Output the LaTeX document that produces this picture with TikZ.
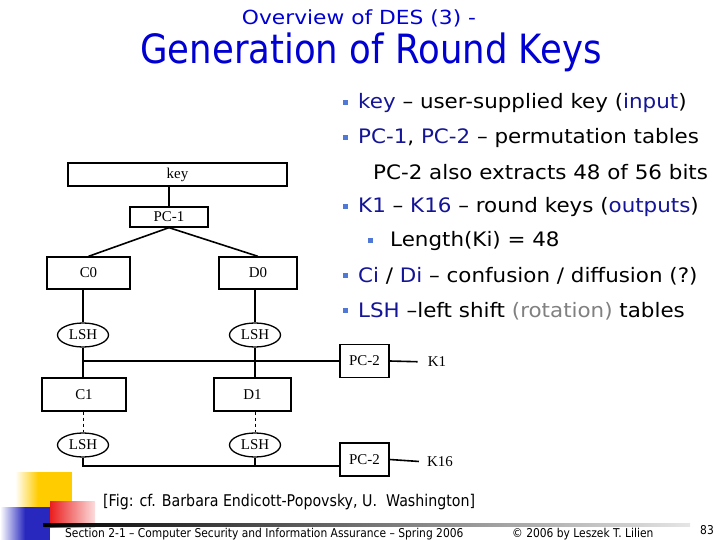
\documentclass[tikz,border=0pt]{standalone}
\usepackage{fontspec}
\setmainfont{Liberation Serif}
\newfontfamily\slidefont[FakeStretch=1.12]{DejaVu Sans}
\newfontfamily\itemfont[FakeStretch=1.075]{DejaVu Sans}
\newfontfamily\titlefont[FakeStretch=0.88]{DejaVu Sans}
\usetikzlibrary{shapes.geometric}

\definecolor{titleblue}{RGB}{0,0,210}
\definecolor{termblue}{RGB}{20,20,150}
\definecolor{bulletblue}{RGB}{80,120,215}
\definecolor{notegray}{RGB}{128,128,128}
\definecolor{deckyellow}{RGB}{255,204,0}
\definecolor{deckblue}{RGB}{40,40,190}
\definecolor{deckred}{RGB}{235,30,30}

\tikzset{
  keybox/.style={draw, line width=1.3bp, inner sep=0pt, font=\fontsize{15}{15}\selectfont},
  lshbox/.style={draw, ellipse, line width=1.3bp, minimum width=51bp, minimum height=24bp,
    inner sep=0pt, font=\fontsize{15}{15}\selectfont},
  wire/.style={line width=1.6bp},
  sqbullet/.style={fill=bulletblue, minimum size=5bp, inner sep=0pt},
  itemtext/.style={anchor=west, inner sep=0pt, font=\itemfont\fontsize{20}{20}\selectfont}
}

\begin{document}
\begin{tikzpicture}[x=1bp,y=-1bp]
  \useasboundingbox (0,0) rectangle (720,540);

  % slide decoration
  \shade[left color=white, right color=deckyellow] (15,472) rectangle (38,507);
  \fill[deckyellow] (38,472) rectangle (72,507);
  \shade[left color=white, right color=deckblue] (0,507) rectangle (25,540);
  \fill[deckblue] (25,507) rectangle (50,540);
  \shade[left color=deckred, right color=deckred!15] (50,501) rectangle (95,527);
  \shade[left color=black, right color=black!10] (43,523) rectangle (690,526);

  % titles
  \node[font=\slidefont\fontsize{19.5}{19.5}\selectfont, text=titleblue] (subtitle) at (359,18) {Overview of DES (3) -};
  \node[font=\titlefont\fontsize{40.5}{40.5}\selectfont, text=titleblue] (title) at (371,52) {Generation of Round Keys};

  % bullet list
  \node[sqbullet] (b1) at (345,102.5) {};
  \node[itemtext] (t1) at (358,103) {\textcolor{termblue}{key} – user-supplied key (\textcolor{termblue}{input})};
  \node[sqbullet] (b2) at (345,137.5) {};
  \node[itemtext] (t2) at (358,138) {\textcolor{termblue}{PC-1}, \textcolor{termblue}{PC-2} – permutation tables};
  \node[itemtext] (t3) at (373,172) {PC-2 also extracts 48 of 56 bits};
  \node[sqbullet] (b4) at (345,206.5) {};
  \node[itemtext] (t4) at (358,207) {\textcolor{termblue}{K1} – \textcolor{termblue}{K16} – round keys (\textcolor{termblue}{outputs})};
  \node[sqbullet] (b5) at (370,240.5) {};
  \node[itemtext] (t5) at (390,241) {Length(Ki) = 48};
  \node[sqbullet] (b6) at (345,275.5) {};
  \node[itemtext] (t6) at (358,276) {\textcolor{termblue}{Ci} / \textcolor{termblue}{Di} – confusion / diffusion (?)};
  \node[sqbullet] (b7) at (345,310.5) {};
  \node[itemtext] (t7) at (358,311) {\textcolor{termblue}{LSH} –left shift \textcolor{notegray}{(rotation)} tables};

  % key schedule diagram
  \node[keybox, minimum width=219bp, minimum height=23bp] (key) at (177.5,174.5) {key};
  \node[keybox, minimum width=78bp, minimum height=20bp] (pc1) at (169,217) {PC-1};
  \node[keybox, minimum width=83bp, minimum height=32bp] (c0) at (88.5,273) {C0};
  \node[keybox, minimum width=78bp, minimum height=32bp] (d0) at (258,273) {D0};
  \node[lshbox] (lsha) at (83,335) {LSH};
  \node[lshbox] (lshb) at (255,335) {LSH};
  \node[keybox, minimum width=49bp, minimum height=33bp] (pc2a) at (364.5,361) {PC-2};
  \node[inner sep=0pt, font=\fontsize{15}{15}\selectfont] (k1) at (437,362) {K1};
  \node[keybox, minimum width=84bp, minimum height=33bp] (c1) at (84,394.5) {C1};
  \node[keybox, minimum width=77bp, minimum height=33bp] (d1) at (252.5,394.5) {D1};
  \node[lshbox] (lshc) at (83,445) {LSH};
  \node[lshbox] (lshd) at (255,445) {LSH};
  \node[keybox, minimum width=49bp, minimum height=33bp] (pc2b) at (364.5,459.5) {PC-2};
  \node[inner sep=0pt, font=\fontsize{15}{15}\selectfont] (k16) at (440,462) {K16};
  \coordinate (busb) at ([yshift=-6.5bp]pc2b.west);

  \draw[wire] (pc1.north) -- (pc1.north |- key.south);
  \draw[wire] (pc1.south) -- (c0.north);
  \draw[wire] (pc1.south) -- (d0.north);
  \draw[wire] (lsha.north) -- (lsha.north |- c0.south);
  \draw[wire] (lshb.north) -- (lshb.north |- d0.south);
  \draw[wire] (lsha.south) -- (lsha.south |- c1.north);
  \draw[wire] (lshb.south) -- (lshb.south |- d1.north);
  \draw[wire] (lsha.south |- pc2a.west) -- (pc2a.west);
  \draw[wire, shorten >=10bp] (pc2a.east) -- (k1.west);
  \draw[dashed] (lshc.north |- c1.south) -- (lshc.north);
  \draw[dashed] (lshd.north |- d1.south) -- (lshd.north);
  \draw[wire] (lshc.south) -- (lshc.south |- busb) -- (busb);
  \draw[wire] (lshd.south) -- (lshd.south |- busb);
  \draw[wire, shorten >=8bp] (pc2b.east) -- (k16.west);

  % credits and footer
  \node[anchor=west, inner sep=0pt, font=\titlefont\fontsize{16.2}{16.2}\selectfont] (credit) at (103,502) {[Fig: cf. Barbara Endicott-Popovsky, U.\ \ Washington]};
  \node[anchor=west, inner sep=0pt, font=\titlefont\fontsize{12.2}{12.2}\selectfont] (course) at (65,534) {Section 2-1 – Computer Security and Information Assurance – Spring 2006};
  \node[anchor=west, inner sep=0pt, font=\titlefont\fontsize{12.2}{12.2}\selectfont] (author) at (512,534) {© 2006 by Leszek T. Lilien};
  \node[anchor=west, inner sep=0pt, font=\titlefont\fontsize{12.2}{12.2}\selectfont] (page) at (700,530) {83};
\end{tikzpicture}
\end{document}
